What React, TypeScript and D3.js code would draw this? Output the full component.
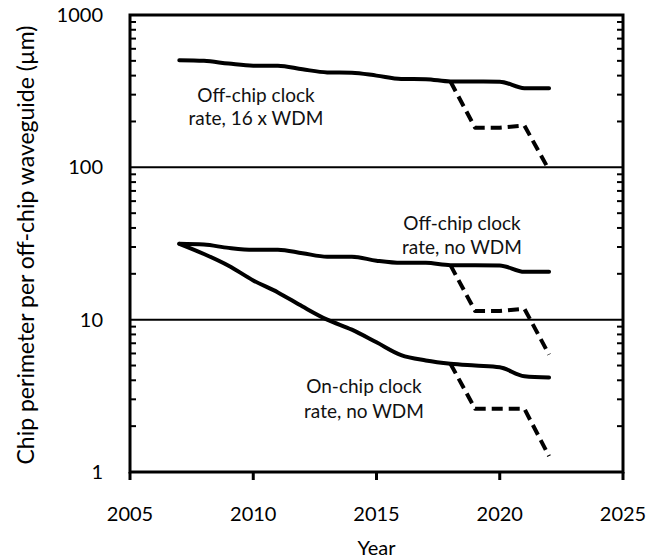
import * as React from 'react';
import * as d3 from 'd3';

const years = [2007, 2008, 2009, 2010, 2011, 2012, 2013, 2014, 2015, 2016, 2017, 2018, 2019, 2020, 2021, 2022];
const offChipWdm = [505, 500, 480, 465, 465, 440, 420, 418, 400, 380, 379, 366, 366, 365, 331, 330];
const offChipNoWdm = [31.5, 31.1, 29.6, 28.8, 28.8, 27.3, 25.9, 25.9, 24.4, 23.6, 23.6, 22.8, 22.8, 22.7, 20.6, 20.6];
const onChipNoWdm = [31.5, 27, 22.6, 18.1, 15.1, 12.2, 10, 8.6, 7.1, 5.85, 5.4, 5.14, 5.0, 4.87, 4.25, 4.17];

const dashYears = [2018, 2019, 2020, 2021, 2022];
const offChipWdmDash = [366, 182, 182, 188, 96];
const offChipNoWdmDash = [22.8, 11.4, 11.4, 11.8, 5.9];
const onChipNoWdmDash = [5.14, 2.6, 2.6, 2.6, 1.27];

const xTicks = [2005, 2010, 2015, 2020, 2025];
const yTicks = [1, 10, 100, 1000];
const gridValues = [10, 100];

const font = 'Lato, "Open Sans", sans-serif';

export default function App() {
    let margin = { top: 15, right: 37, bottom: 88, left: 130 };
    let width = 660;
    let height = 560;

    let x = d3.scaleLinear().domain([2005, 2025]).range([margin.left, width - margin.right]);
    let y = d3.scaleLog().domain([1, 1000]).range([height - margin.bottom, margin.top]);

    let solid = d3.line<[number, number]>()
        .x((d) => x(d[0]))
        .y((d) => y(d[1]))
        .curve(d3.curveMonotoneX);
    let dashed = d3.line<[number, number]>()
        .x((d) => x(d[0]))
        .y((d) => y(d[1]));

    let solidSeries = [offChipWdm, offChipNoWdm, onChipNoWdm];
    let dashSeries = [offChipWdmDash, offChipNoWdmDash, onChipNoWdmDash];

    // log minor ticks, 2..9 in each decade
    let minor: number[] = [];
    for (let dec = 1; dec < 1000; dec *= 10) {
        for (let k = 2; k <= 9; k++) minor.push(dec * k);
    }

    let x0 = x(2005), x1 = x(2025), y0 = y(1), y1 = y(1000);

    return (
        <svg width={width} height={height} style={{ position: 'absolute', left: 0, top: 0 }}>
            {gridValues.map((v) => (
                <line key={'g' + v} x1={x0} x2={x1} y1={y(v)} y2={y(v)} stroke="#000" strokeWidth={2} />
            ))}
            {minor.map((v) => (
                <g key={'m' + v}>
                    <line x1={x0} x2={x0 + 6} y1={y(v)} y2={y(v)} stroke="#000" strokeWidth={2} />
                    <line x1={x1 - 6} x2={x1} y1={y(v)} y2={y(v)} stroke="#000" strokeWidth={2} />
                </g>
            ))}
            {xTicks.map((t) => (
                <g key={'x' + t}>
                    <line x1={x(t)} x2={x(t)} y1={y0} y2={y0 + 8} stroke="#000" strokeWidth={3} />
                    <text x={x(t)} y={y0 + 49} textAnchor="middle" fontFamily={font} fontSize={20}>{t}</text>
                </g>
            ))}
            {yTicks.map((t) => (
                <text key={'y' + t} x={x0 - 27} y={y(t) + 7} textAnchor="end" fontFamily={font} fontSize={20}>{t}</text>
            ))}
            <rect x={x0} y={y1} width={x1 - x0} height={y0 - y1} fill="none" stroke="#000" strokeWidth={3} />

            {solidSeries.map((s, i) => (
                <path key={'s' + i} d={solid(years.map((yr, j) => [yr, s[j]] as [number, number])) || ''}
                    fill="none" stroke="#000" strokeWidth={4} strokeLinejoin="round" strokeLinecap="round" />
            ))}
            {dashSeries.map((s, i) => (
                <path key={'d' + i} d={dashed(dashYears.map((yr, j) => [yr, s[j]] as [number, number])) || ''}
                    fill="none" stroke="#000" strokeWidth={4} strokeDasharray="11,6" strokeLinejoin="round" />
            ))}

            <g fontFamily={font} fontSize={19} textAnchor="middle" fill="#111">
                <text x={256} y={102}>Off-chip clock</text>
                <text x={256} y={125}>rate, 16 x WDM</text>
                <text x={462} y={230}>Off-chip clock</text>
                <text x={462} y={254}>rate, no WDM</text>
                <text x={364} y={393}>On-chip clock</text>
                <text x={364} y={418}>rate, no WDM</text>
            </g>

            <text x={(x0 + x1) / 2} y={555} textAnchor="middle" fontFamily={font} fontSize={20}>Year</text>
            <text transform="translate(34,245) rotate(-90)" textAnchor="middle"
                fontFamily={font} fontSize={23}>Chip perimeter per off-chip waveguide (µm)</text>
        </svg>
    );
}
